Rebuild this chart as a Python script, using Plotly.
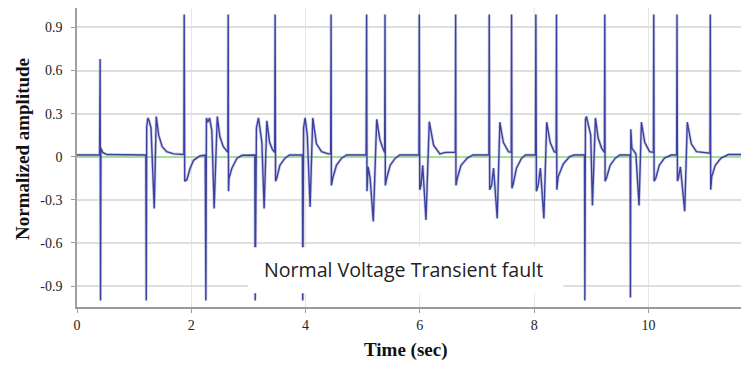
import plotly.graph_objects as go

# ---------------- data ----------------
time_s = [
    0.00, 0.395, 0.405, 0.412, 0.418, 0.45, 0.52,
    1.205, 1.212, 1.220, 1.240, 1.262, 1.295, 1.352, 1.387, 1.43, 1.49, 1.57, 1.69, 1.870,
    1.876, 1.885, 1.923, 1.98, 2.04, 2.15,
    2.244, 2.255, 2.265, 2.29, 2.32, 2.36, 2.40, 2.455, 2.50, 2.56, 2.62, 2.640,
    2.646, 2.652, 2.66, 2.71, 2.80, 2.89,
    3.112, 3.118, 3.14, 3.176, 3.21, 3.235, 3.275, 3.322, 3.37, 3.42, 3.460,
    3.467, 3.475, 3.496, 3.55, 3.64, 3.72,
    3.945, 3.951, 3.965, 3.992, 4.03, 4.079, 4.126, 4.19, 4.28, 4.40, 4.440,
    4.446, 4.452, 4.475, 4.54, 4.63, 4.72,
    5.060, 5.068, 5.075, 5.095, 5.13, 5.185, 5.245, 5.30, 5.36, 5.384,
    5.390, 5.396, 5.42, 5.48, 5.57, 5.65,
    5.984, 5.990, 5.998, 6.02, 6.05, 6.107, 6.165, 6.24, 6.35, 6.45, 6.620,
    6.626, 6.632, 6.655, 6.72, 6.83, 6.93,
    7.208, 7.214, 7.222, 7.255, 7.29, 7.354, 7.40, 7.46, 7.55, 7.599,
    7.605, 7.612, 7.634, 7.69, 7.78, 7.85,
    8.024, 8.030, 8.040, 8.07, 8.11, 8.17, 8.22, 8.28, 8.35, 8.385,
    8.391, 8.397, 8.42, 8.51, 8.62, 8.70,
    8.882, 8.887, 8.898, 8.915, 8.95, 8.99, 9.02, 9.073, 9.12, 9.18, 9.230,
    9.236, 9.242, 9.265, 9.33, 9.42, 9.50,
    9.680, 9.685, 9.692, 9.71, 9.74, 9.78, 9.836, 9.877, 9.935, 10.02, 10.087,
    10.093, 10.100, 10.128, 10.19, 10.28, 10.40,
    10.494, 10.500, 10.508, 10.524, 10.56, 10.635, 10.68, 10.75, 10.84, 11.077,
    11.083, 11.090, 11.107, 11.17, 11.27, 11.40, 11.62,
]

amplitude = [
    0.012, 0.012, 0.68, -1.0, 0.06, 0.03, 0.015,
    0.012, -1.0, 0.21, 0.27, 0.25, 0.20, -0.36, 0.28, 0.15, 0.07, 0.035, 0.02, 0.015,
    0.99, -0.17, -0.16, -0.08, -0.025, 0.005,
    0.012, -1.0, 0.27, 0.24, 0.27, 0.18, -0.36, 0.28, 0.14, 0.07, 0.035, 0.03,
    0.99, -0.24, -0.15, -0.08, -0.01, 0.01,
    0.012, -1.0, 0.20, 0.27, 0.17, 0.10, -0.36, 0.25, 0.10, 0.05, 0.03,
    0.99, -0.17, -0.15, -0.06, -0.01, 0.012,
    0.012, -1.0, 0.20, 0.27, 0.15, -0.35, 0.27, 0.09, 0.035, 0.02, 0.02,
    0.99, -0.20, -0.15, -0.06, -0.01, 0.012,
    0.012, 0.99, -0.24, -0.07, -0.15, -0.45, 0.26, 0.12, 0.05, 0.03,
    0.99, -0.20, -0.15, -0.06, -0.01, 0.012,
    0.012, 0.99, -0.23, -0.20, -0.06, -0.44, 0.244, 0.08, 0.02, 0.03, 0.03,
    0.99, -0.20, -0.15, -0.06, -0.01, 0.012,
    0.012, 0.99, -0.23, -0.20, -0.08, -0.43, 0.24, 0.10, 0.035, 0.03,
    0.99, -0.22, -0.19, -0.08, -0.01, 0.012,
    0.012, 0.99, -0.24, -0.20, -0.08, -0.43, 0.24, 0.10, 0.035, 0.03,
    0.99, -0.23, -0.14, -0.05, 0.0, 0.012,
    0.012, -1.0, 0.26, 0.28, 0.22, 0.15, -0.34, 0.27, 0.13, 0.06, 0.03,
    0.99, -0.17, -0.15, -0.06, -0.01, 0.012,
    0.012, -0.98, 0.19, 0.06, 0.04, 0.02, -0.34, 0.24, 0.10, 0.035, 0.03,
    0.99, -0.17, -0.15, -0.06, -0.01, 0.012,
    0.012, 0.99, -0.17, -0.15, -0.07, -0.38, 0.24, 0.09, 0.035, 0.025,
    0.99, -0.23, -0.14, -0.06, -0.01, 0.015, 0.015,
]
assert len(time_s) == len(amplitude)

x_tick_vals = [0, 2, 4, 6, 8, 10]
y_tick_vals = [0.9, 0.6, 0.3, 0, -0.3, -0.6, -0.9]
y_tick_text = ["0.9", "0.6", "0.3", "0", "-0.3", "-0.6", "-0.9"]

x_title = "Time (sec)"
y_title = "Normalized amplitude"
note_text = "Normal Voltage Transient fault"

# ---------------- figure ----------------
fig = go.Figure()

# soft halo (anti-aliased look of the original trace)
fig.add_trace(go.Scatter(
    x=time_s, y=amplitude, mode="lines",
    line=dict(color="rgba(150,150,200,0.45)", width=3),
    hoverinfo="skip", showlegend=False,
))
fig.add_trace(go.Scatter(
    x=time_s, y=amplitude, mode="lines",
    line=dict(color="#3a419f", width=1.4),
    showlegend=False,
))

serif = "Liberation Serif, Times New Roman, serif"

fig.update_layout(
    width=741, height=365,
    margin=dict(l=77, r=0, t=8, b=58),
    paper_bgcolor="white", plot_bgcolor="white",
    showlegend=False,
    xaxis=dict(
        range=[0, 11.62],
        tickvals=x_tick_vals,
        ticks="outside", ticklen=4, tickcolor="#9a9a9a",
        showline=True, linecolor="#9a9a9a", linewidth=2,
        showgrid=True, gridcolor="#e6e6e6", gridwidth=1,
        zeroline=False,
        tickfont=dict(family=serif, size=14, color="#222"),
    ),
    yaxis=dict(
        range=[-1.046, 1.035],
        tickvals=y_tick_vals, ticktext=y_tick_text,
        ticks="outside", ticklen=4, tickcolor="#9a9a9a",
        showline=True, linecolor="#a0a0a0", linewidth=1.5,
        showgrid=True, gridcolor="#dedede", gridwidth=1.5,
        zeroline=True, zerolinecolor="#a6df97", zerolinewidth=1.5,
        tickfont=dict(family=serif, size=14, color="#222"),
        ticklabelstandoff=6,
    ),
    shapes=[
        dict(type="rect", xref="x", yref="y", x0=2.99, x1=8.51, y0=-0.95, y1=-0.63,
             fillcolor="white", line=dict(width=0), layer="above"),
    ],
    annotations=[
        dict(text=note_text, xref="x", yref="y", x=5.71, y=-0.788,
             showarrow=False, font=dict(family="Open Sans", size=19.6, color="#222")),
        dict(text="<b>" + x_title + "</b>", xref="paper", yref="paper",
             x=0.496, y=-0.144, xanchor="center", yanchor="middle", showarrow=False,
             font=dict(family=serif, size=19, color="#111")),
        dict(text="<b>" + y_title + "</b>", xref="paper", yref="paper",
             x=-0.083, y=0.528, xanchor="center", yanchor="middle", textangle=-90,
             showarrow=False, font=dict(family=serif, size=19, color="#111")),
    ],
)

fig.write_html("out.html")
